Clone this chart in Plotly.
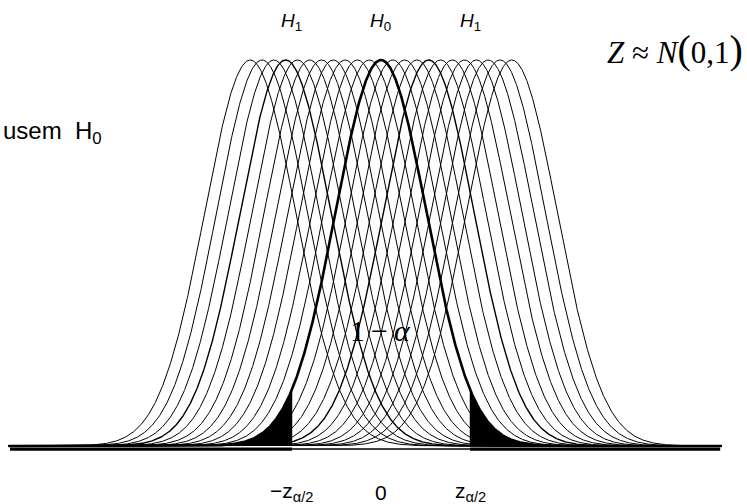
import numpy as np
import plotly.graph_objects as go

# Centres of the shifted alternative curves (in standard-deviation units)
shifts = [-2.88, -2.62, -2.36, -2.10, -1.84, -1.57, -1.31, -1.05, -0.79, -0.52, -0.26,
          0.0,
          0.26, 0.52, 0.79, 1.05, 1.31, 1.57, 1.84, 2.10, 2.36, 2.62, 2.88]
heavy_shifts = [-2.10, 1.05]     # two alternatives drawn a little heavier
z_crit = 1.96                    # two-sided critical value
tick_pos = [-z_crit, 0.0, z_crit]
tick_text = ["\u2212z<sub>\u03b1/2</sub>", "0", "z<sub>\u03b1/2</sub>"]
top_pos = [-z_crit, 0.0, z_crit]
top_text = ["<i>H</i><sub>1</sub>", "<i>H</i><sub>0</sub>", "<i>H</i><sub>1</sub>"]

x = np.linspace(-8.2, 7.5, 1600)


def bell(t, mu):
    return np.exp(-0.5 * (t - mu) ** 2)


fig = go.Figure()

# Rejection tails of H0
xl = x[x <= -z_crit]
xl = np.append(xl, -z_crit)
fig.add_trace(go.Scatter(x=np.append(xl, -z_crit), y=np.append(bell(xl, 0), 0),
                         fill="tozeroy", fillcolor="black", mode="lines",
                         line=dict(color="black", width=0.5), hoverinfo="skip"))
xr = x[x >= z_crit]
xr = np.insert(xr, 0, z_crit)
fig.add_trace(go.Scatter(x=np.insert(xr, 0, z_crit), y=np.insert(bell(xr, 0), 0, 0),
                         fill="tozeroy", fillcolor="black", mode="lines",
                         line=dict(color="black", width=0.5), hoverinfo="skip"))

# Family of shifted curves
for mu in shifts:
    if mu == 0.0:
        continue
    w = 1.4 if mu in heavy_shifts else 1.0
    fig.add_trace(go.Scatter(x=x, y=bell(x, mu), mode="lines",
                             line=dict(color="black", width=w), hoverinfo="skip"))

# Null curve
fig.add_trace(go.Scatter(x=x, y=bell(x, 0.0), mode="lines",
                         line=dict(color="black", width=2.6), hoverinfo="skip"))

# Baseline: heavy outside the acceptance region, lighter inside
fig.add_trace(go.Scatter(x=[-8.17, -z_crit], y=[-0.008, -0.008], mode="lines",
                         line=dict(color="black", width=3.2), hoverinfo="skip"))
fig.add_trace(go.Scatter(x=[z_crit, 7.47], y=[-0.008, -0.008], mode="lines",
                         line=dict(color="black", width=3.2), hoverinfo="skip"))
fig.add_trace(go.Scatter(x=[-z_crit, z_crit], y=[-0.008, -0.008], mode="lines",
                         line=dict(color="black", width=1.6), hoverinfo="skip"))

ann = []
for p, t in zip(top_pos, top_text):
    ann.append(dict(x=p, y=1.098, xref="x", yref="y", text=t, showarrow=False,
                    font=dict(family="Liberation Sans, Arial", size=19, color="black")))
for p, t in zip(tick_pos, tick_text):
    ann.append(dict(x=p, y=-0.12, xref="x", yref="y", text=t, showarrow=False,
                    font=dict(family="Liberation Sans, Arial", size=21, color="black")))

ann.append(dict(x=0.0, y=0.298, xref="x", yref="y",
                text="1\u2009\u2212\u2009<i>\u03b1</i>", showarrow=False,
                font=dict(family="Liberation Serif, Times New Roman", size=30, color="black")))

ann.append(dict(x=104 / 747, y=1 - 133 / 504, xref="paper", yref="paper",
                xanchor="right", yanchor="middle",
                text="usem\u00a0 H<sub>0</sub>", showarrow=False,
                font=dict(family="Liberation Sans, Arial", size=24, color="black")))

ann.append(dict(x=745 / 747, y=1 - 50 / 504, xref="paper", yref="paper",
                xanchor="right", yanchor="middle",
                text="<i>Z</i> \u2248 <i>N</i><span style='font-size:40px'>(</span>0,1"
                     "<span style='font-size:40px'>)</span>",
                showarrow=False,
                font=dict(family="Liberation Serif, Times New Roman", size=31, color="black")))

fig.update_layout(
    width=747, height=504,
    margin=dict(l=0, r=0, t=0, b=0),
    paper_bgcolor="white", plot_bgcolor="white",
    showlegend=False,
    xaxis=dict(range=[-8.39, 8.06], visible=False, fixedrange=True),
    yaxis=dict(range=[-0.1503, 1.1554], visible=False, fixedrange=True),
    annotations=ann,
)

fig.write_html("out.html")
